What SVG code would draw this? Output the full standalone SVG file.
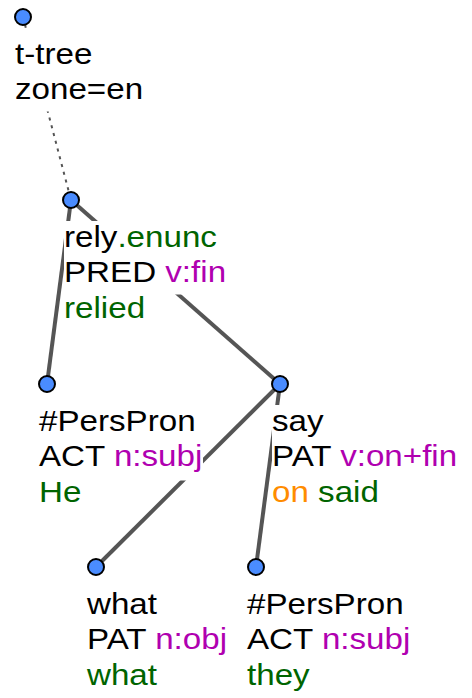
<svg xmlns="http://www.w3.org/2000/svg" width="472" height="698" viewBox="0 0 472 698">
<style>
.e{stroke:#555;stroke-width:4;fill:none}
.d{stroke:#555;stroke-width:2;stroke-dasharray:3 5;fill:none}
.bg{fill:#fff}
.t{font-family:"Liberation Sans",Arial,sans-serif;font-size:30px;fill:#000}
.g{fill:#006400}
.m{fill:#b000b0}
.o{fill:#ff8c00}
.c{fill:#4a8cff;stroke:#000;stroke-width:2}
</style>
<g id="connectors">
<line class="d" x1="23" y1="17" x2="71" y2="200"/>
<line class="e" x1="71" y1="200" x2="47" y2="384"/>
<line class="e" x1="71" y1="200" x2="280" y2="384"/>
<line class="e" x1="280" y1="384" x2="96" y2="567"/>
<line class="e" x1="280" y1="384" x2="256" y2="567"/>
</g>
<g id="n-root">
<rect class="bg" x="15" y="30" width="77" height="44"/>
<rect class="bg" x="15" y="73.5" width="128" height="38"/>
<text class="t" transform="translate(15,64) scale(1.105,1)"><tspan x="0" y="0">t-tree</tspan><tspan x="0" y="35.5">zone=en</tspan></text>
<circle class="c" cx="23" cy="17" r="8"/>
</g>
<g id="n-rely">
<rect class="bg" x="64" y="221" width="153" height="38"/>
<rect class="bg" x="64" y="256.5" width="162" height="38"/>
<rect class="bg" x="64" y="292" width="81" height="38"/>
<text class="t" transform="translate(64,247) scale(1.105,1)"><tspan x="0" y="0">rely<tspan class="g">.enunc</tspan></tspan><tspan x="0" y="35.5">PRED <tspan class="m">v:fin</tspan></tspan><tspan x="0" y="71" class="g">relied</tspan></text>
<circle class="c" cx="71" cy="200" r="8"/>
</g>
<g id="n-perspron1">
<rect class="bg" x="39" y="405" width="156" height="38"/>
<rect class="bg" x="39" y="440.5" width="164" height="40"/>
<rect class="bg" x="39" y="476" width="42" height="38"/>
<text class="t" transform="translate(39,431) scale(1.105,1)"><tspan x="0" y="0">#PersPron</tspan><tspan x="0" y="35.5">ACT <tspan class="m">n:subj</tspan></tspan><tspan x="0" y="71" class="g">He</tspan></text>
<circle class="c" cx="47" cy="384" r="8"/>
</g>
<g id="n-say">
<rect class="bg" x="272" y="405" width="51" height="36"/>
<rect class="bg" x="272" y="440.5" width="200" height="38"/>
<rect class="bg" x="272" y="476" width="107" height="38"/>
<text class="t" transform="translate(272,431) scale(1.105,1)"><tspan x="0" y="0">say</tspan><tspan x="0" y="35.5">PAT <tspan class="m">v:on+fin</tspan></tspan><tspan x="0" y="71"><tspan class="o">on</tspan> <tspan class="g">said</tspan></tspan></text>
<circle class="c" cx="280" cy="384" r="8"/>
</g>
<g id="n-what">
<rect class="bg" x="87" y="588" width="70" height="38"/>
<rect class="bg" x="87" y="623.5" width="145" height="38"/>
<rect class="bg" x="87" y="659" width="70" height="38"/>
<text class="t" transform="translate(87,614) scale(1.105,1)"><tspan x="0" y="0">what</tspan><tspan x="0" y="35.5">PAT <tspan class="m">n:obj</tspan></tspan><tspan x="0" y="71" class="g">what</tspan></text>
<circle class="c" cx="96" cy="567" r="8"/>
</g>
<g id="n-perspron2">
<rect class="bg" x="247" y="588" width="156" height="38"/>
<rect class="bg" x="247" y="623.5" width="164" height="38"/>
<rect class="bg" x="247" y="659" width="63" height="38"/>
<text class="t" transform="translate(247,614) scale(1.105,1)"><tspan x="0" y="0">#PersPron</tspan><tspan x="0" y="35.5">ACT <tspan class="m">n:subj</tspan></tspan><tspan x="0" y="71" class="g">they</tspan></text>
<circle class="c" cx="256" cy="567" r="8"/>
</g>
</svg>
